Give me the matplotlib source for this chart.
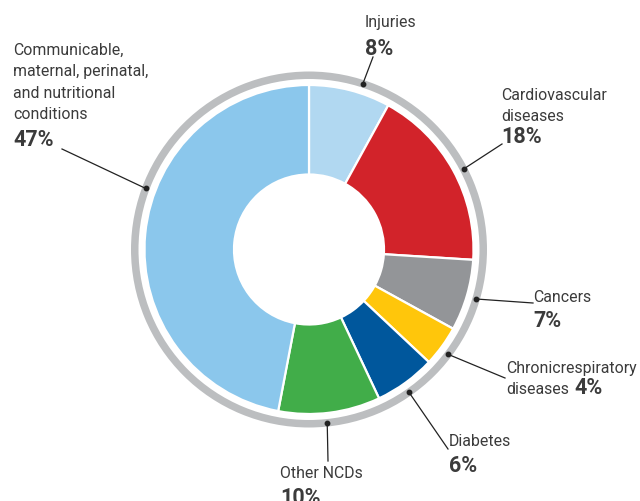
import numpy as np
import matplotlib.pyplot as plt
from matplotlib.patches import Wedge

# data
categories = ['Injuries', 'Cardiovascular diseases', 'Cancers',
              'Chronic respiratory diseases', 'Diabetes', 'Other NCDs',
              'Communicable, maternal, perinatal, and nutritional conditions']
shares = [8, 18, 7, 4, 6, 10, 47]
colors = ['#b1d8f1', '#d2232a', '#939598', '#ffc60b', '#00579c', '#41ad49', '#8bc7ec']

# label text (name lines, bold percentage)
label_names = ['Injuries', 'Cardiovascular\ndiseases', 'Cancers',
               'Chronicrespiratory\ndiseases', 'Diabetes', 'Other NCDs',
               'Communicable,\nmaternal, perinatal,\nand nutritional\nconditions']
label_pcts = ['8%', '18%', '7%', '4%', '6%', '10%', '47%']

W, H = 640, 502
CX, CY = 309, 250.5
R_OUT, R_IN = 164.5, 75
RING_R, RING_W = 178, 7.5
TXT = '#3b3b3b'
FONT = ['Roboto', 'DejaVu Sans']

# layout: dot angle (deg clockwise from top), leader end, text x,
# first name-line baseline, pct baseline (image px)
dot_ang = [18, 62.5, 106.5, 127, 145, 174, 290.5]
line_end = [(373, 58), (502, 145), (533, 304), (505, 379), (448, 450), (328, 462), (62, 150)]
text_x = [365, 501, 533, 506, 449, 280, 13]
name_base = [27, 100, 302, 373, 446, 478, 55]
pct_base = [55, 143, 327, None, 472, 504, 146]


def fy(y):
    return H - y


fig = plt.figure(figsize=(6.4, 5.02), dpi=100)
ax = fig.add_axes([0, 0, 1, 1])

ax.pie(shares, colors=colors, startangle=90, counterclock=False,
       radius=R_OUT, center=(CX, fy(CY)),
       wedgeprops=dict(width=R_OUT - R_IN, edgecolor='white', linewidth=1.6))

# outer grey ring
ax.add_patch(Wedge((CX, fy(CY)), RING_R, 0, 360, width=RING_W,
                   facecolor='#bcbec0', edgecolor='none'))

ring_mid = RING_R - RING_W / 2
line_h = 21.4
for i in range(len(shares)):
    a = np.radians(dot_ang[i])
    dx = CX + ring_mid * np.sin(a)
    dy = CY - ring_mid * np.cos(a)
    ex, ey = line_end[i]
    ax.plot([dx, ex], [fy(dy), fy(ey)], color='#222222', lw=0.9)
    ax.plot(dx, fy(dy), 'o', ms=3.2, color='#222222')

    lines = label_names[i].split('\n')
    for j, ln in enumerate(lines):
        ax.text(text_x[i], fy(name_base[i] + j * line_h), ln,
                fontsize=11.4, color=TXT, family=FONT, va='baseline', ha='left')
    if pct_base[i] is not None:
        ax.text(text_x[i], fy(pct_base[i]), label_pcts[i], fontsize=15.5,
                fontweight='bold', color=TXT, family=FONT, va='baseline', ha='left')
    else:
        # percentage sits on the last name line
        ax.text(574, fy(name_base[i] + (len(lines) - 1) * line_h), label_pcts[i],
                fontsize=15.5, fontweight='bold', color=TXT, family=FONT,
                va='baseline', ha='left')

ax.set_xlim(0, W)
ax.set_ylim(0, H)
ax.set_aspect('equal')
ax.axis('off')

fig.savefig('out.png', dpi=100)
